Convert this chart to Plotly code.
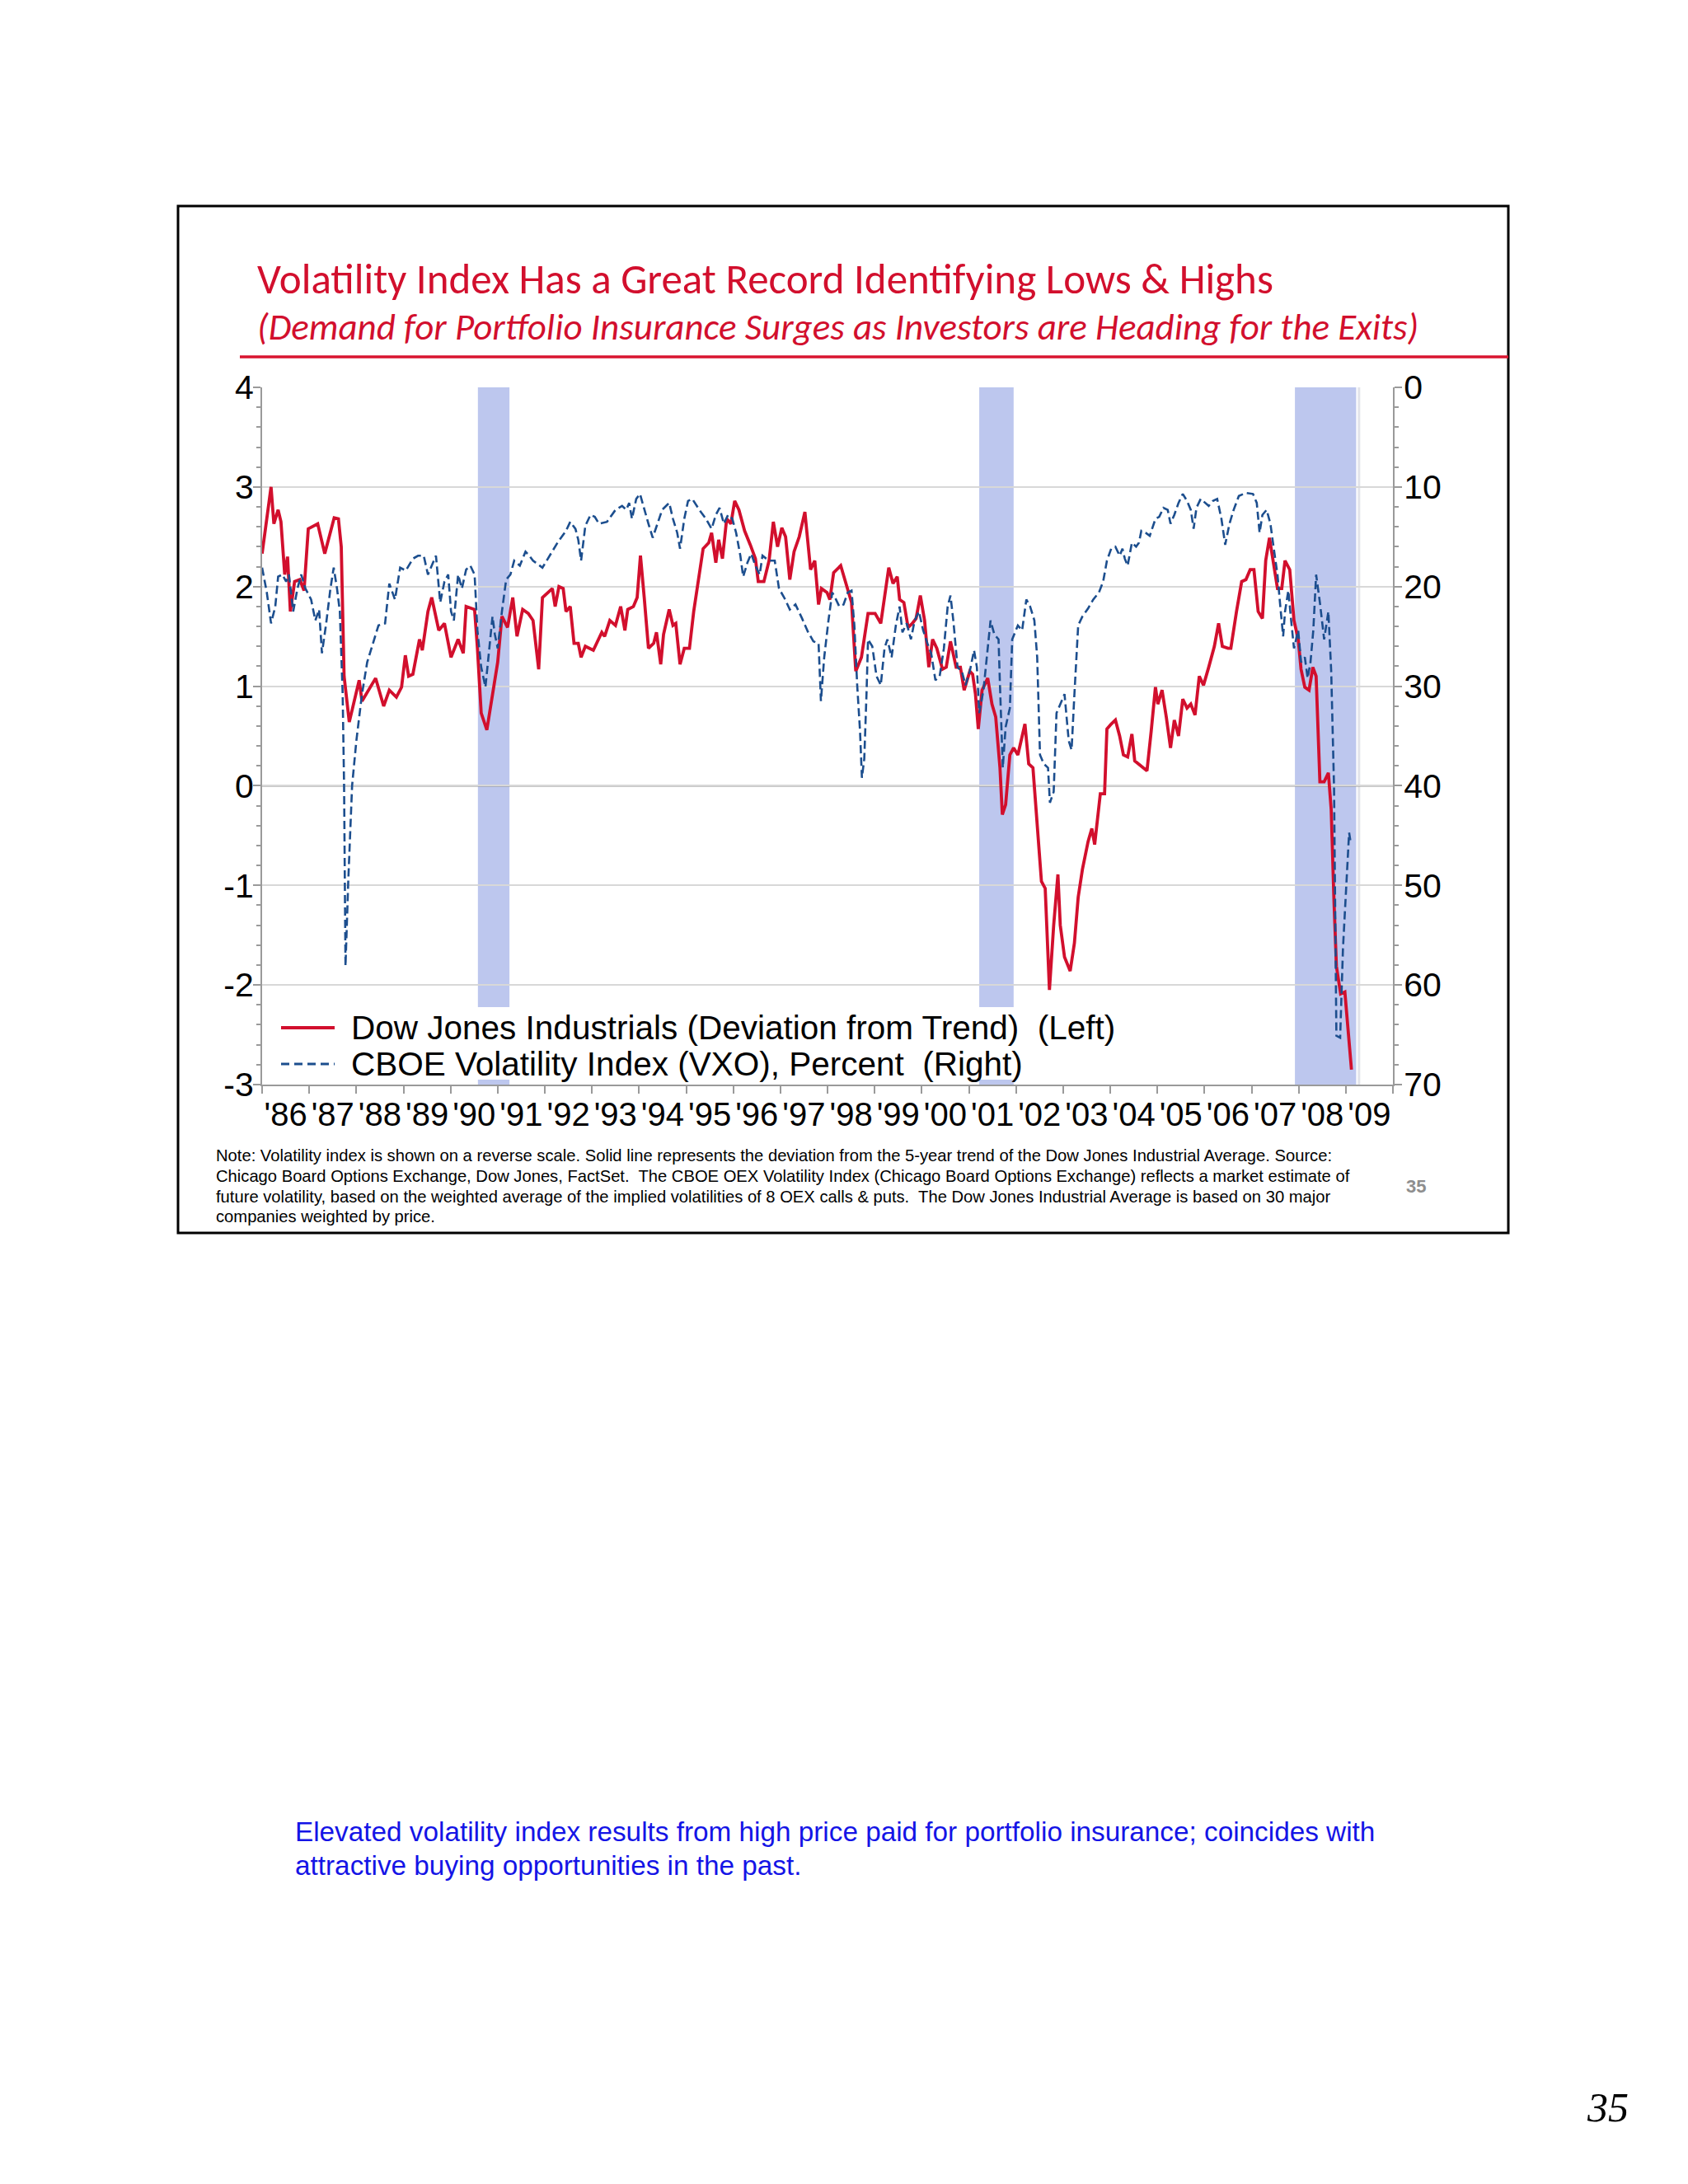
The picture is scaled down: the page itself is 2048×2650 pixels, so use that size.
import plotly.graph_objects as go

# ---------------- data ----------------
dj_year = [1986.00, 1986.19, 1986.25, 1986.34, 1986.40, 1986.48, 1986.54, 1986.60, 1986.69, 1986.80,
           1986.89, 1986.98, 1987.18, 1987.33, 1987.53, 1987.62, 1987.68, 1987.74, 1987.85, 1987.94,
           1988.06, 1988.12, 1988.26, 1988.41, 1988.58, 1988.70, 1988.85, 1988.96, 1989.04, 1989.11,
           1989.20, 1989.34, 1989.40, 1989.52, 1989.60, 1989.75, 1989.87, 1990.01, 1990.16, 1990.27,
           1990.33, 1990.51, 1990.57, 1990.65, 1990.77, 1990.89, 1991.00, 1991.09, 1991.21, 1991.32,
           1991.41, 1991.53, 1991.65, 1991.75, 1991.87, 1991.95, 1992.07, 1992.16, 1992.22, 1992.30,
           1992.39, 1992.45, 1992.54, 1992.62, 1992.71, 1992.77, 1992.86, 1993.03, 1993.21, 1993.27,
           1993.38, 1993.50, 1993.61, 1993.70, 1993.76, 1993.88, 1993.96, 1994.03, 1994.11, 1994.20,
           1994.31, 1994.37, 1994.46, 1994.52, 1994.64, 1994.72, 1994.78, 1994.87, 1994.96, 1995.07,
           1995.16, 1995.25, 1995.36, 1995.48, 1995.54, 1995.63, 1995.69, 1995.77, 1995.86, 1995.95,
           1996.03, 1996.12, 1996.24, 1996.36, 1996.47, 1996.53, 1996.65, 1996.76, 1996.85, 1996.94,
           1997.03, 1997.11, 1997.20, 1997.29, 1997.40, 1997.52, 1997.64, 1997.73, 1997.81, 1997.87,
           1997.99, 1998.05, 1998.13, 1998.28, 1998.40, 1998.51, 1998.60, 1998.72, 1998.86, 1999.01,
           1999.13, 1999.18, 1999.30, 1999.39, 1999.48, 1999.53, 1999.62, 1999.71, 1999.80, 1999.88,
           1999.97, 2000.06, 2000.15, 2000.23, 2000.32, 2000.44, 2000.52, 2000.61, 2000.73, 2000.82,
           2000.90, 2001.02, 2001.08, 2001.14, 2001.20, 2001.28, 2001.40, 2001.49, 2001.57, 2001.66,
           2001.71, 2001.78, 2001.87, 2001.95, 2002.04, 2002.19, 2002.27, 2002.36, 2002.45, 2002.54,
           2002.62, 2002.71, 2002.80, 2002.89, 2002.94, 2003.03, 2003.15, 2003.24, 2003.32, 2003.41,
           2003.53, 2003.61, 2003.67, 2003.79, 2003.88, 2003.93, 2004.02, 2004.11, 2004.20, 2004.28,
           2004.37, 2004.46, 2004.52, 2004.64, 2004.78, 2004.87, 2004.96, 2005.01, 2005.10, 2005.19,
           2005.28, 2005.36, 2005.45, 2005.54, 2005.63, 2005.71, 2005.80, 2005.89, 2005.98, 2006.09,
           2006.21, 2006.30, 2006.38, 2006.50, 2006.56, 2006.68, 2006.79, 2006.88, 2006.97, 2007.05,
           2007.14, 2007.23, 2007.30, 2007.38, 2007.46, 2007.55, 2007.64, 2007.71, 2007.81, 2007.90,
           2007.99, 2008.05, 2008.13, 2008.22, 2008.30, 2008.37, 2008.45, 2008.54, 2008.63, 2008.69,
           2008.75, 2008.80, 2008.89, 2008.98, 2009.12]
dj_value = [2.33, 3.00, 2.63, 2.77, 2.65, 2.12, 2.30, 1.75, 2.05, 2.07,
            1.96, 2.58, 2.63, 2.33, 2.69, 2.68, 2.40, 1.10, 0.64, 0.82,
            1.06, 0.85, 0.96, 1.08, 0.80, 0.96, 0.89, 0.99, 1.31, 1.10,
            1.12, 1.47, 1.36, 1.75, 1.89, 1.56, 1.63, 1.29, 1.47, 1.33,
            1.80, 1.77, 1.38, 0.73, 0.56, 0.92, 1.24, 1.70, 1.59, 1.89,
            1.50, 1.77, 1.73, 1.66, 1.17, 1.89, 1.94, 1.98, 1.80, 2.00,
            1.98, 1.75, 1.80, 1.43, 1.43, 1.29, 1.40, 1.36, 1.54, 1.50,
            1.66, 1.61, 1.80, 1.56, 1.77, 1.80, 1.89, 2.31, 1.89, 1.38,
            1.43, 1.54, 1.22, 1.52, 1.77, 1.61, 1.63, 1.22, 1.38, 1.38,
            1.75, 2.03, 2.38, 2.44, 2.54, 2.24, 2.47, 2.28, 2.68, 2.63,
            2.86, 2.77, 2.56, 2.42, 2.28, 2.05, 2.05, 2.26, 2.65, 2.40,
            2.59, 2.50, 2.07, 2.35, 2.50, 2.75, 2.17, 2.26, 1.82, 1.98,
            1.94, 1.87, 2.14, 2.21, 2.03, 1.84, 1.15, 1.29, 1.73, 1.73,
            1.63, 1.80, 2.19, 2.03, 2.10, 1.87, 1.84, 1.59, 1.63, 1.68,
            1.91, 1.66, 1.19, 1.47, 1.38, 1.17, 1.19, 1.45, 1.19, 1.19,
            0.96, 1.15, 1.12, 0.92, 0.57, 0.96, 1.08, 0.82, 0.69, 0.18,
            -0.29, -0.19, 0.31, 0.38, 0.31, 0.62, 0.22, 0.18, -0.43, -0.96,
            -1.03, -2.05, -1.40, -0.89, -1.40, -1.72, -1.86, -1.58, -1.12, -0.84,
            -0.56, -0.43, -0.59, -0.08, -0.08, 0.57, 0.62, 0.66, 0.50, 0.31,
            0.29, 0.52, 0.25, 0.20, 0.15, 0.55, 0.99, 0.82, 0.96, 0.69,
            0.38, 0.66, 0.50, 0.87, 0.78, 0.82, 0.71, 1.10, 1.01, 1.19,
            1.40, 1.63, 1.40, 1.38, 1.38, 1.75, 2.05, 2.07, 2.17, 2.17,
            1.75, 1.68, 2.26, 2.49, 2.26, 1.98, 1.98, 2.26, 2.17, 1.66,
            1.47, 1.17, 0.99, 0.96, 1.19, 1.10, 0.04, 0.04, 0.13, -0.24,
            -1.17, -1.81, -2.09, -2.07, -2.85]

vxo_year = [1986.00, 1986.10, 1986.19, 1986.28, 1986.34, 1986.43, 1986.51, 1986.57, 1986.66, 1986.75,
            1986.83, 1986.92, 1987.04, 1987.13, 1987.21, 1987.27, 1987.36, 1987.45, 1987.52, 1987.59,
            1987.65, 1987.71, 1987.74, 1987.77, 1987.83, 1987.91, 1988.00, 1988.12, 1988.23, 1988.35,
            1988.47, 1988.61, 1988.70, 1988.82, 1988.93, 1989.05, 1989.20, 1989.31, 1989.43, 1989.52,
            1989.60, 1989.69, 1989.78, 1989.87, 1989.95, 1990.01, 1990.07, 1990.16, 1990.24, 1990.33,
            1990.42, 1990.51, 1990.57, 1990.65, 1990.74, 1990.80, 1990.89, 1990.94, 1991.00, 1991.09,
            1991.18, 1991.27, 1991.35, 1991.47, 1991.59, 1991.67, 1991.75, 1991.95, 1992.10, 1992.27,
            1992.45, 1992.54, 1992.65, 1992.71, 1992.77, 1992.86, 1992.97, 1993.06, 1993.15, 1993.32,
            1993.50, 1993.64, 1993.73, 1993.79, 1993.85, 1993.94, 1994.02, 1994.11, 1994.20, 1994.29,
            1994.37, 1994.49, 1994.64, 1994.72, 1994.81, 1994.87, 1994.96, 1995.04, 1995.13, 1995.28,
            1995.42, 1995.54, 1995.63, 1995.71, 1995.80, 1995.89, 1995.98, 1996.06, 1996.15, 1996.21,
            1996.30, 1996.38, 1996.47, 1996.56, 1996.62, 1996.70, 1996.79, 1996.88, 1996.97, 1997.08,
            1997.20, 1997.32, 1997.46, 1997.58, 1997.70, 1997.81, 1997.86, 1997.93, 1998.02, 1998.10,
            1998.16, 1998.25, 1998.34, 1998.43, 1998.51, 1998.57, 1998.63, 1998.69, 1998.73, 1998.78,
            1998.83, 1998.86, 1998.95, 1999.04, 1999.13, 1999.21, 1999.27, 1999.36, 1999.45, 1999.53,
            1999.59, 1999.68, 1999.77, 1999.85, 1999.94, 2000.03, 2000.12, 2000.20, 2000.29, 2000.38,
            2000.47, 2000.55, 2000.61, 2000.67, 2000.76, 2000.85, 2000.93, 2001.02, 2001.11, 2001.17,
            2001.22, 2001.31, 2001.40, 2001.46, 2001.54, 2001.63, 2001.66, 2001.72, 2001.78, 2001.87,
            2001.92, 2002.04, 2002.13, 2002.22, 2002.30, 2002.39, 2002.45, 2002.51, 2002.59, 2002.68,
            2002.72, 2002.80, 2002.86, 2002.94, 2003.03, 2003.12, 2003.18, 2003.24, 2003.32, 2003.41,
            2003.53, 2003.64, 2003.76, 2003.85, 2003.93, 2004.02, 2004.11, 2004.20, 2004.26, 2004.31,
            2004.37, 2004.46, 2004.55, 2004.61, 2004.66, 2004.75, 2004.84, 2004.96, 2005.04, 2005.13,
            2005.22, 2005.28, 2005.36, 2005.45, 2005.54, 2005.63, 2005.71, 2005.77, 2005.83, 2005.92,
            2006.01, 2006.09, 2006.18, 2006.27, 2006.36, 2006.44, 2006.53, 2006.62, 2006.73, 2006.88,
            2007.03, 2007.11, 2007.17, 2007.23, 2007.32, 2007.40, 2007.46, 2007.55, 2007.61, 2007.67,
            2007.71, 2007.78, 2007.84, 2007.90, 2007.99, 2008.05, 2008.13, 2008.19, 2008.25, 2008.31,
            2008.37, 2008.45, 2008.54, 2008.63, 2008.69, 2008.75, 2008.80, 2008.88, 2008.94, 2009.01,
            2009.07, 2009.10]
vxo_value = [18.1, 20.6, 23.7, 22.0, 19.0, 18.8, 19.5, 18.8, 22.5, 20.2,
             18.8, 20.2, 21.3, 23.4, 22.3, 26.7, 23.7, 20.2, 18.1, 20.2,
             22.5, 30.8, 40.0, 58.1, 49.4, 40.0, 35.5, 30.8, 27.6, 25.7,
             23.9, 23.7, 19.7, 21.3, 18.1, 18.4, 17.2, 16.9, 16.9, 18.8,
             17.9, 16.9, 21.6, 19.5, 18.8, 22.5, 23.4, 18.8, 20.2, 18.3,
             17.9, 18.8, 24.4, 28.1, 30.1, 27.1, 23.0, 24.8, 26.2, 22.5,
             19.3, 18.8, 17.4, 17.9, 16.5, 16.9, 17.4, 18.1, 16.9, 15.6,
             14.4, 13.5, 14.2, 15.3, 17.4, 13.9, 12.8, 13.0, 13.7, 13.5,
             12.3, 11.9, 12.3, 11.6, 13.2, 11.2, 10.7, 12.3, 13.7, 15.1,
             13.9, 12.3, 11.6, 13.2, 14.6, 16.2, 13.2, 11.4, 11.2, 12.3,
             13.2, 14.2, 12.8, 12.1, 13.7, 12.8, 13.2, 14.6, 16.9, 19.0,
             17.6, 16.7, 17.9, 18.8, 16.9, 17.2, 17.4, 17.4, 20.2, 21.1,
             22.3, 21.8, 23.2, 24.5, 25.5, 25.7, 31.5, 27.1, 23.4, 20.6,
             21.1, 22.0, 21.8, 20.6, 20.4, 23.9, 29.9, 34.5, 39.2, 37.3,
             30.4, 25.3, 26.0, 29.0, 29.9, 26.2, 25.3, 27.1, 23.9, 22.0,
             24.6, 23.7, 25.3, 23.4, 22.5, 24.4, 25.7, 26.7, 29.4, 29.0,
             26.2, 22.0, 20.9, 23.4, 28.1, 28.5, 29.9, 28.5, 26.4, 28.1,
             32.7, 30.4, 26.2, 23.4, 24.8, 25.3, 29.9, 38.2, 34.1, 32.2,
             25.3, 23.9, 24.4, 21.3, 22.0, 23.4, 27.1, 36.9, 37.8, 38.2,
             41.7, 40.6, 32.7, 31.8, 30.8, 35.5, 36.4, 30.8, 23.9, 23.0,
             22.2, 21.3, 20.6, 19.5, 17.4, 16.2, 16.0, 16.9, 16.2, 17.2,
             17.9, 15.6, 16.0, 15.6, 14.4, 14.6, 14.9, 13.2, 13.0, 12.1,
             12.3, 13.7, 12.8, 11.6, 10.7, 11.4, 12.3, 14.2, 12.1, 11.2,
             11.6, 11.9, 11.4, 11.2, 13.2, 15.8, 13.7, 12.3, 10.9, 10.6,
             10.7, 11.6, 14.6, 12.8, 12.3, 13.7, 15.8, 18.8, 22.0, 25.0,
             22.5, 20.4, 23.4, 26.2, 24.4, 27.6, 27.1, 29.2, 27.6, 24.4,
             18.8, 21.6, 25.3, 22.5, 28.5, 40.1, 65.1, 65.3, 56.3, 49.4,
             44.7, 45.6]

year_labels = ["'86", "'87", "'88", "'89", "'90", "'91", "'92", "'93", "'94", "'95", "'96", "'97",
               "'98", "'99", "'00", "'01", "'02", "'03", "'04", "'05", "'06", "'07", "'08", "'09"]
first_year = 1986
left_ticks = [-3, -2, -1, 0, 1, 2, 3, 4]
left_labels = ["-3", "-2", "-1", "0", "1", "2", "3", "4"]
right_ticks = [0, 10, 20, 30, 40, 50, 60, 70]
recession_start = [1990.58, 2001.22, 2007.92]
recession_end = [1991.25, 2001.95, 2009.22]

title = "Volatility Index Has a Great Record Identifying Lows &amp; Highs"
subtitle = "(Demand for Portfolio Insurance Surges as Investors are Heading for the Exits)"
legend_dj = "Dow Jones Industrials (Deviation from Trend)  (Left)"
legend_vxo = "CBOE Volatility Index (VXO), Percent  (Right)"
note_lines = [
    "Note: Volatility index is shown on a reverse scale. Solid line represents the deviation from the 5-year trend of the Dow Jones Industrial Average. Source:",
    "Chicago Board Options Exchange, Dow Jones, FactSet.  The CBOE OEX Volatility Index (Chicago Board Options Exchange) reflects a market estimate of",
    "future volatility, based on the weighted average of the implied volatilities of 8 OEX calls &amp; puts.  The Dow Jones Industrial Average is based on 30 major",
    "companies weighted by price.",
]
comment_lines = [
    "Elevated volatility index results from high price paid for portfolio insurance; coincides with",
    "attractive buying opportunities in the past.",
]
slide_no = "35"

# ---------------- layout geometry (pixels, page coordinates) ----------------
W, H = 2048, 2650
OFF = 8  # page body margin of the html page
PL, PR, PT, PB = 318, 1690, 470, 1316


def fx(px):
    return (px - PL) / (PR - PL)


def fy(py):
    return (PB - py) / (PB - PT)


RED = "#d20f2d"
BLUE = "#1c4e8e"
AXIS = "#9a9a9a"
SANS = "Liberation Sans, Arial, sans-serif"
TITLEFONT = "Carlito, Lato, Open Sans, sans-serif"

fig = go.Figure()

fig.add_trace(go.Scatter(x=dj_year, y=dj_value, mode="lines",
                         line=dict(color=RED, width=3.8), showlegend=False, hoverinfo="skip"))
fig.add_trace(go.Scatter(x=vxo_year, y=vxo_value, mode="lines", yaxis="y2",
                         line=dict(color=BLUE, width=2.6, dash="10px,5px"),
                         showlegend=False, hoverinfo="skip"))

shapes = []
for s, e in zip(recession_start, recession_end):
    shapes.append(dict(type="rect", xref="x", yref="paper", x0=s, x1=e, y0=0, y1=1,
                       fillcolor="#bdc7ee", line=dict(width=0), layer="between"))
shapes.append(dict(type="line", xref="x", yref="paper", x0=recession_end[-1] + 0.06,
                   x1=recession_end[-1] + 0.06, y0=0, y1=1,
                   line=dict(color="#e2e4ea", width=3), layer="between"))
shapes.append(dict(type="line", xref="paper", yref="y", x0=0, x1=1, y0=0, y1=0,
                   line=dict(color="#8f8f8f", width=2), layer="between"))
shapes.append(dict(type="rect", xref="paper", yref="paper", x0=fx(321), x1=fx(1390),
                   y0=fy(1310), y1=fy(1222), fillcolor="white", line=dict(width=0),
                   layer="between"))
shapes.append(dict(type="line", xref="paper", yref="paper", x0=fx(341), x1=fx(406),
                   y0=fy(1247), y1=fy(1247), line=dict(color=RED, width=3.8)))
shapes.append(dict(type="line", xref="paper", yref="paper", x0=fx(341), x1=fx(406),
                   y0=fy(1291), y1=fy(1291), line=dict(color=BLUE, width=3, dash="10px,6px")))
shapes.append(dict(type="rect", xref="paper", yref="paper", x0=fx(216), x1=fx(1830),
                   y0=fy(1496), y1=fy(250), line=dict(color="black", width=3)))
shapes.append(dict(type="line", xref="paper", yref="paper", x0=fx(291), x1=fx(1830),
                   y0=fy(433), y1=fy(433), line=dict(color="#d9142f", width=3.5)))

ann = []


def text(px, py, s, size, color="black", family=SANS, xa="left", ya="middle"):
    ann.append(dict(x=fx(px), y=fy(py), xref="paper", yref="paper", text=s, showarrow=False,
                    xanchor=xa, yanchor=ya, align="left",
                    font=dict(size=size, color=color, family=family)))


text(310, 338, title, 51, RED, TITLEFONT)
text(310, 396, "<i>" + subtitle + "</i>", 45, RED, TITLEFONT)
text(424, 1247, legend_dj, 40.5)
text(424, 1291, legend_vxo, 40.5)
for i, line in enumerate(note_lines):
    text(260, 1402 + i * 24.8, line, 20.2)
text(1718, 1439, "<b>" + slide_no + "</b>", 22, "#8e8e8e", xa="center")
for i, line in enumerate(comment_lines):
    text(356, 2222 + i * 41, line, 33.3, "#1414e6")
text(1950, 2557, "<i>" + slide_no + "</i>", 50, "black", "Liberation Serif, Times New Roman, serif",
     xa="center")

fig.update_layout(
    width=W, height=H, autosize=False,
    margin=dict(l=PL - OFF, r=W - PR + OFF, t=PT - OFF, b=H - PB + OFF, pad=0),
    paper_bgcolor="white", plot_bgcolor="white",
    shapes=shapes, annotations=ann, showlegend=False,
    xaxis=dict(range=[first_year, first_year + len(year_labels)],
               tickvals=[first_year + i + 0.5 for i in range(len(year_labels))],
               ticktext=year_labels, ticks="", showgrid=False, zeroline=False,
               showline=True, linecolor=AXIS, linewidth=2,
               tickfont=dict(family=SANS, size=40, color="black"),
               minor=dict(tickvals=[first_year + i for i in range(len(year_labels) + 1)],
                          ticks="outside", ticklen=9, tickwidth=2, tickcolor=AXIS, showgrid=False)),
    yaxis=dict(range=[-3, 4], tickvals=left_ticks, ticktext=left_labels,
               showgrid=True, gridcolor="#d8d8d8", gridwidth=2,
               zeroline=False, showline=True, linecolor=AXIS, linewidth=2,
               ticks="outside", ticklen=9, tickwidth=2, tickcolor=AXIS, ticklabelstandoff=-9,
               tickfont=dict(family=SANS, size=41, color="black"),
               minor=dict(dtick=0.2, tick0=0, ticks="outside", ticklen=5, tickwidth=1.5,
                          tickcolor=AXIS, showgrid=False)),
    yaxis2=dict(range=[70, 0], overlaying="y", side="right", tickvals=right_ticks,
                showgrid=False, zeroline=False, showline=True, linecolor=AXIS, linewidth=2,
                ticks="outside", ticklen=9, tickwidth=2, tickcolor=AXIS, ticklabelstandoff=-6,
                tickfont=dict(family=SANS, size=41, color="black"),
                minor=dict(dtick=2, tick0=0, ticks="outside", ticklen=5, tickwidth=1.5,
                           tickcolor=AXIS, showgrid=False)),
)

fig.write_html("out.html")
